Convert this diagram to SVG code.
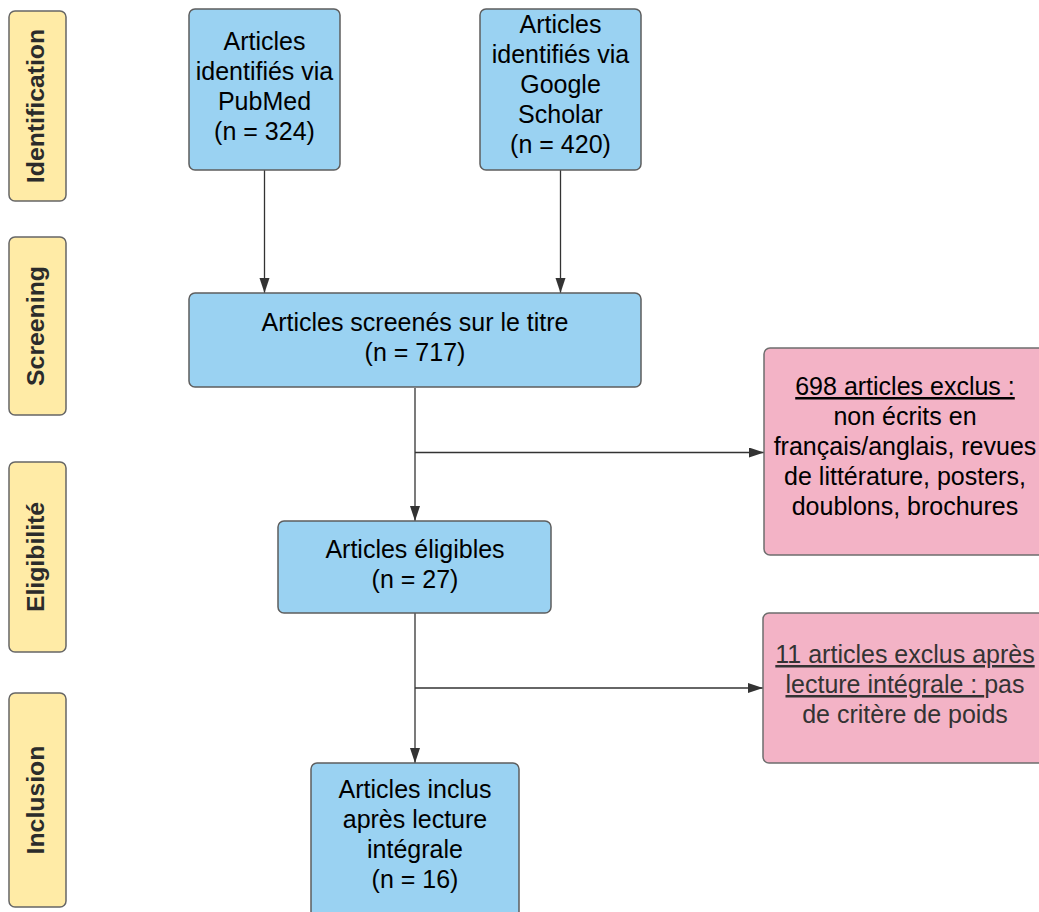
<svg xmlns="http://www.w3.org/2000/svg" width="1039" height="912" viewBox="0 0 1039 912">
  <defs>
    <style>
      .phase { fill: #FFEBA6; stroke: #666666; stroke-width: 1.5; }
      .blue { fill: #9AD2F2; stroke: #5E5E5E; stroke-width: 1.5; }
      .pink { fill: #F3B3C6; stroke: #6E6E6E; stroke-width: 1.5; }
      .ptxt { font-family: "Liberation Sans", Arial, sans-serif; font-size: 24.8px; font-weight: bold; fill: #2b2b2b; text-anchor: middle; }
      .txt { font-family: "Liberation Sans", Arial, sans-serif; font-size: 25px; fill: #000000; text-anchor: middle; }
      .grey { fill: #333333; }
      .conn { fill: none; stroke: #333333; stroke-width: 1.3; }
    </style>
    <marker id="arrow" markerUnits="userSpaceOnUse" markerWidth="16" markerHeight="11" refX="15" refY="5" orient="auto">
      <path d="M0,0 L15,5 L0,10 Z" fill="#333333"/>
    </marker>
  </defs>

  <rect width="1039" height="912" fill="#FFFFFF"/>

  <g id="phase-identification">
    <rect class="phase" x="9" y="11" width="57" height="190" rx="6"/>
    <text class="ptxt" transform="translate(44,106) rotate(-90)">Identification</text>
  </g>
  <g id="phase-screening">
    <rect class="phase" x="9" y="237" width="57" height="178" rx="6"/>
    <text class="ptxt" transform="translate(44,326) rotate(-90)">Screening</text>
  </g>
  <g id="phase-eligibilite">
    <rect class="phase" x="9" y="462" width="57" height="190" rx="6"/>
    <text class="ptxt" transform="translate(44,557) rotate(-90)">Eligibilité</text>
  </g>
  <g id="phase-inclusion">
    <rect class="phase" x="9" y="693" width="57" height="214" rx="6"/>
    <text class="ptxt" transform="translate(44,800) rotate(-90)">Inclusion</text>
  </g>

  <g id="connectors">
    <path class="conn" d="M264.5,170 V293" marker-end="url(#arrow)"/>
    <path class="conn" d="M560.5,170 V293" marker-end="url(#arrow)"/>
    <path class="conn" d="M415,388 V521" marker-end="url(#arrow)"/>
    <path class="conn" d="M415,452.5 H764" marker-end="url(#arrow)"/>
    <path class="conn" d="M415,613 V763" marker-end="url(#arrow)"/>
    <path class="conn" d="M415,688 H763" marker-end="url(#arrow)"/>
  </g>

  <g id="node-pubmed">
    <rect class="blue" x="189" y="9" width="151" height="161" rx="6"/>
    <text class="txt" x="264.5" y="50">Articles</text>
    <text class="txt" x="264.5" y="80">identifiés via</text>
    <text class="txt" x="264.5" y="110">PubMed</text>
    <text class="txt" x="264.5" y="140">(n = 324)</text>
  </g>

  <g id="node-google">
    <rect class="blue" x="480" y="9" width="161" height="161" rx="6"/>
    <text class="txt" x="560.5" y="33">Articles</text>
    <text class="txt" x="560.5" y="63">identifiés via</text>
    <text class="txt" x="560.5" y="93">Google</text>
    <text class="txt" x="560.5" y="123">Scholar</text>
    <text class="txt" x="560.5" y="153">(n = 420)</text>
  </g>

  <g id="node-screened">
    <rect class="blue" x="189" y="293" width="452" height="94" rx="6"/>
    <text class="txt" x="415" y="331">Articles screenés sur le titre</text>
    <text class="txt" x="415" y="361">(n = 717)</text>
  </g>

  <g id="node-excl1">
    <rect class="pink" x="764" y="348" width="290" height="207" rx="6"/>
    <text class="txt" x="905" y="395" text-decoration="underline">698 articles exclus :</text>
    <text class="txt" x="905" y="425">non écrits en</text>
    <text class="txt" x="905" y="455">français/anglais, revues</text>
    <text class="txt" x="905" y="485">de littérature, posters,</text>
    <text class="txt" x="905" y="515">doublons, brochures</text>
  </g>

  <g id="node-eligibles">
    <rect class="blue" x="278" y="521" width="273" height="92" rx="6"/>
    <text class="txt" x="415" y="558">Articles éligibles</text>
    <text class="txt" x="415" y="588">(n = 27)</text>
  </g>

  <g id="node-excl2">
    <rect class="pink" x="763" y="613" width="290" height="150" rx="6"/>
    <text class="txt grey" x="905" y="663" text-decoration="underline">11 articles exclus après</text>
    <text class="txt grey" x="905" y="693"><tspan text-decoration="underline">lecture intégrale : </tspan>pas</text>
    <text class="txt grey" x="905" y="723">de critère de poids</text>
  </g>

  <g id="node-inclus">
    <rect class="blue" x="311" y="763" width="208" height="160" rx="6"/>
    <text class="txt" x="415" y="798">Articles inclus</text>
    <text class="txt" x="415" y="828">après lecture</text>
    <text class="txt" x="415" y="858">intégrale</text>
    <text class="txt" x="415" y="888">(n = 16)</text>
  </g>
</svg>
